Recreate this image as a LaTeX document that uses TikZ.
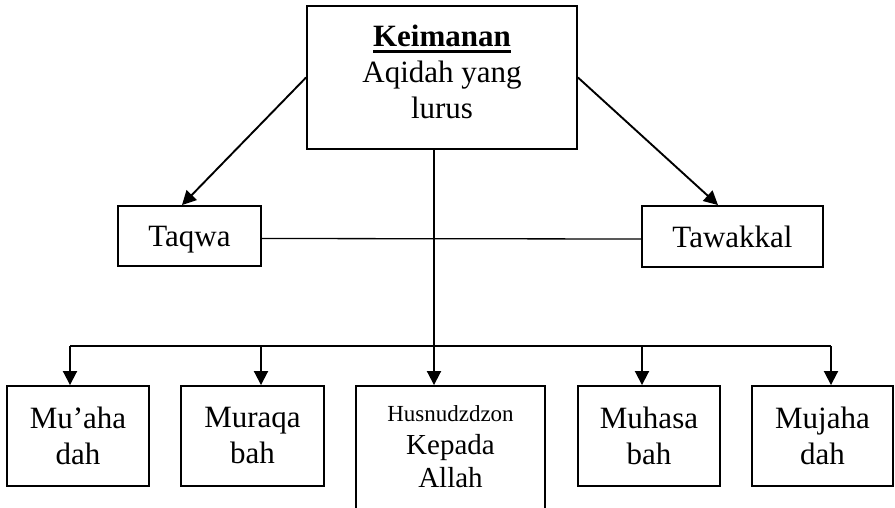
\documentclass[tikz,border=0pt]{standalone}
\usepackage{fontspec}
\setmainfont{Liberation Serif}
\usetikzlibrary{arrows.meta}
\newcommand\kwul[1]{\sbox0{\bfseries #1}\rlap{\raisebox{-7pt}{\rule{\wd0}{3.2pt}}}\usebox0}
\begin{document}
\begin{tikzpicture}[x=1pt,y=-1pt,
  box/.style={draw, line width=1.9pt, inner sep=0pt, align=center,
    font=\fontsize{31}{36}\selectfont},
  arr/.style={line width=1.9pt, -{Triangle[length=14pt,width=14pt]}},
  bus/.style={line width=1.9pt},
  link/.style={line width=1.3pt}]
\clip (0,0) rectangle (895,508);
\fill[white] (0,0) rectangle (895,508);
% top
\node[box, minimum width=270, minimum height=143] (kei) at (442,77.5)
  {\kwul{Keimanan}\\Aqidah yang\\lurus\rule[-12pt]{0pt}{0pt}};
% middle
\node[box, minimum width=143, minimum height=60, text height=21.4pt, text depth=0pt] (taq) at (189.5,236) {Taqwa};
\node[box, minimum width=181, minimum height=61] (taw) at (732.5,236.5) {Tawakkal};
% bottom
\node[box, minimum width=142, minimum height=100] (mua) at (78,436) {Mu’aha\\dah};
\node[box, minimum width=143, minimum height=100] (mur) at (252.5,436) {Muraqa\\bah};
\node[box, minimum width=189, minimum height=134, font=\fontsize{29}{33}\selectfont] (husn) at (450.5,453)
  {{\fontsize{23}{28}\selectfont Husnudzdzon}\\Kepada\\Allah\rule[-12pt]{0pt}{0pt}};
\node[box, minimum width=142, minimum height=100] (muh) at (649,436) {Muhasa\\bah};
\node[box, minimum width=141, minimum height=100] (muj) at (822.5,436) {Mujaha\\dah};
% connectors
\draw[arr] (kei.west) -- ([xshift=-7.5pt]taq.north);
\draw[arr] (kei.east) -- ([xshift=-14.5pt]taw.north);
\draw[link] ([yshift=-2.5pt]taq.east) -- ([yshift=-2.5pt]taw.west);
\coordinate (top) at ([xshift=-8pt]kei.south);
\draw[arr] (top) -- (top |- husn.north);
\coordinate (b1) at (70,346);
\coordinate (b2) at (261,346);
\coordinate (b4) at (642,346);
\coordinate (b5) at (831,346);
\draw[bus] (b1) -- (b5);
\draw[arr] (b1) -- (b1 |- mua.north);
\draw[arr] (b2) -- (b2 |- mur.north);
\draw[arr] (b4) -- (b4 |- muh.north);
\draw[arr] (b5) -- (b5 |- muj.north);
\end{tikzpicture}
\end{document}
